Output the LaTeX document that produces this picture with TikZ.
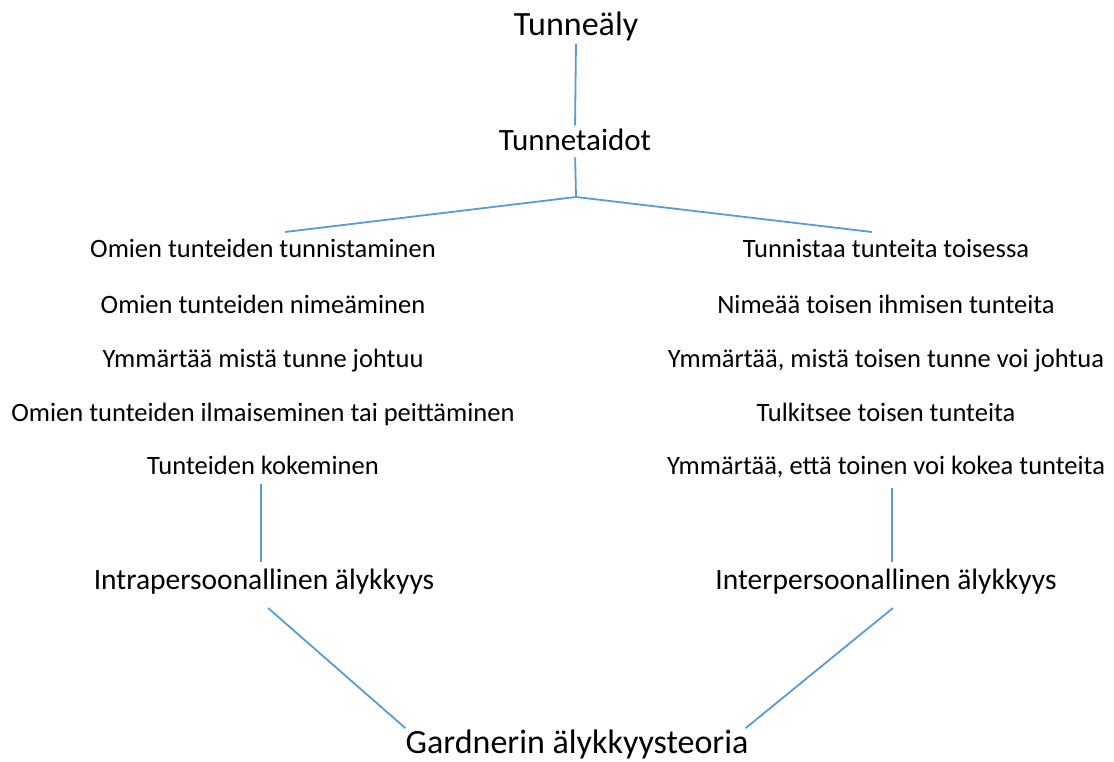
\documentclass[tikz,border=0pt]{standalone}
\usepackage{fontspec}
\setmainfont{Carlito}
\usetikzlibrary{calc}
\definecolor{lineblue}{HTML}{5B9BD5}
\begin{document}
\begin{tikzpicture}[x=1pt,y=-1pt,
  big/.style={inner sep=0pt,anchor=base,font=\fontsize{34}{40}\selectfont},
  mid/.style={inner sep=0pt,anchor=base,font=\fontsize{29.5}{36}\selectfont},
  small/.style={inner sep=0pt,anchor=base,font=\fontsize{26.5}{32}\selectfont},
  conn/.style={draw=lineblue,line width=1.8pt}]
\useasboundingbox (0,0) rectangle (1114,762);
\node[big] (tl) at (576,36) {Tunneäly};
\node[mid,font=\fontsize{31}{36}\selectfont] (tt) at (575,151) {Tunnetaidot};
\coordinate (apex) at (576,197);
\coordinate (lend) at (285,232);
\coordinate (rend) at (872,232);
\node[small] (l1) at (263,258) {Omien tunteiden tunnistaminen};
\node[small] (l2) at (263,313) {Omien tunteiden nimeäminen};
\node[small] (l3) at (263,367) {Ymmärtää mistä tunne johtuu};
\node[small] (l4) at (263,421) {Omien tunteiden ilmaiseminen tai peittäminen};
\node[small] (l5) at (263,474) {Tunteiden kokeminen};
\node[small] (r1) at (886,258) {Tunnistaa tunteita toisessa};
\node[small] (r2) at (886,313) {Nimeää toisen ihmisen tunteita};
\node[small] (r3) at (886,367) {Ymmärtää, mistä toisen tunne voi johtua};
\node[small] (r4) at (886,421) {Tulkitsee toisen tunteita};
\node[small] (r5) at (886,474) {Ymmärtää, että toinen voi kokea tunteita};
\node[mid] (intra) at (264,589) {Intrapersoonallinen älykkyys};
\node[mid] (inter) at (886,589) {Interpersoonallinen älykkyys};
\node[big] (gard) at (577,753) {Gardnerin älykkyysteoria};
\draw[conn,shorten <=2pt,shorten >=4pt] (tl.south) -- (tt.north);
\draw[conn,shorten <=6pt] (tt.south) -- (apex);
\draw[conn] (apex) -- (lend);
\draw[conn] (apex) -- (rend);
\draw[conn,shorten <=10pt,shorten >=6pt] (l5.south -| 261,0) -- (intra.north -| 261,0);
\draw[conn,shorten <=10pt,shorten >=6pt] (r5.south -| 892,0) -- (inter.north -| 892,0);
\draw[conn] ($(intra.south -| 268,0)+(0,14)$) -- ($(gard.north west)+(0,-1)$);
\draw[conn] ($(inter.south -| 893,0)+(0,14)$) -- ($(gard.north east)+(-3,-1)$);
\end{tikzpicture}
\end{document}
